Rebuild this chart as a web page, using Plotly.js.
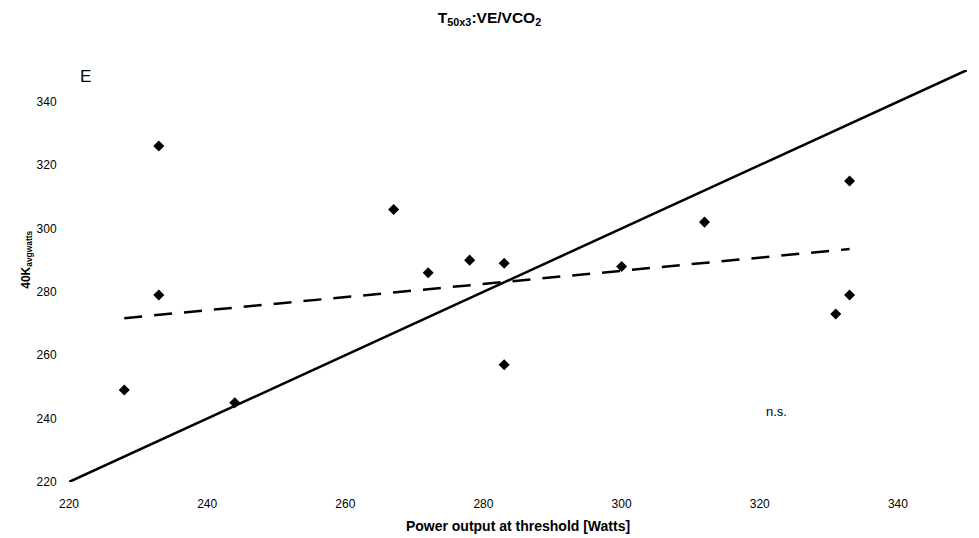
<!DOCTYPE html>
<html>
<head>
<meta charset="utf-8">
<script src="https://cdn.plot.ly/plotly-3.0.1.min.js"></script>
<style>html,body{margin:0;padding:0;background:#fff;}#chart{width:979px;height:538px;}</style>
</head>
<body>
<div id="chart"></div>
<script>
// Data
const powerThreshold = [228, 233, 233, 244, 267, 272, 278, 283, 283, 300, 312, 333, 333, 331];
const avgWatts40K    = [249, 326, 279, 245, 306, 286, 290, 289, 257, 288, 302, 315, 279, 273];
// Regression line (dashed) endpoints
const trendX = [228, 333];
const trendY = [271.7, 293.5];
// Line of identity
const identityX = [220, 350];
const identityY = [220, 350];
const tickVals = [220, 240, 260, 280, 300, 320, 340];

const font = "Arial, 'Liberation Sans', sans-serif";

const traces = [
  {x: identityX, y: identityY, mode: 'lines', line: {color: '#000', width: 2.5}, hoverinfo: 'skip', showlegend: false},
  {x: trendX, y: trendY, mode: 'lines', line: {color: '#000', width: 2.5, dash: '18px,12px'}, hoverinfo: 'skip', showlegend: false},
  {x: powerThreshold, y: avgWatts40K, mode: 'markers', marker: {symbol: 'diamond', size: 8.5, color: '#000'}, showlegend: false}
];

const layout = {
  width: 979, height: 538,
  margin: {l: 69, r: 12, t: 70, b: 56},
  paper_bgcolor: '#fff', plot_bgcolor: '#fff',
  font: {family: font, color: '#000', size: 12},
  title: {text: '<b>T<sub>50x3</sub>:VE/VCO<sub>2</sub></b>', x: 0.5, xref: 'container', y: 0.968, yanchor: 'middle', font: {size: 15.5, family: font}},
  xaxis: {
    range: [220, 350], tickvals: tickVals, showgrid: false, zeroline: false, showline: false,
    ticks: 'outside', ticklen: 11, tickcolor: 'rgba(0,0,0,0)', tickfont: {size: 12},
    title: {text: '<b>Power output at threshold [Watts]</b>', font: {size: 14}, standoff: 10}
  },
  yaxis: {
    range: [220, 350], tickvals: tickVals, showgrid: false, zeroline: false, showline: false,
    ticks: 'outside', ticklen: 9, tickcolor: 'rgba(0,0,0,0)', tickfont: {size: 12}
  },
  annotations: [
    {text: '<b>40K<sub>avgwatts</sub></b>', textangle: -90, x: -0.047, xref: 'paper', y: 0.539, yref: 'paper',
     xanchor: 'center', yanchor: 'middle', showarrow: false, font: {size: 12}},
    {text: 'E', x: 0.01, xref: 'paper', y: 0.985, yref: 'paper', xanchor: 'left', yanchor: 'middle', showarrow: false, font: {size: 17}},
    {text: 'n.s.', x: 322.4, y: 242.1, xref: 'x', yref: 'y', showarrow: false, font: {size: 13}}
  ]
};

Plotly.newPlot('chart', traces, layout, {displayModeBar: false, staticPlot: true});
</script>
</body>
</html>
